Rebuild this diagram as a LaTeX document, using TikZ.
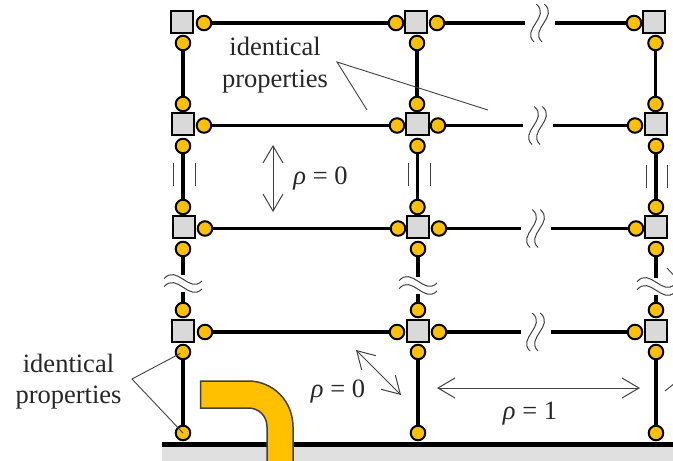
\documentclass[tikz,border=0pt]{standalone}
\usepackage{fontspec}
\setmainfont{Liberation Serif}
\usetikzlibrary{arrows.meta}
\definecolor{pipeorange}{HTML}{FFC000}
\definecolor{jointgray}{HTML}{D9D9D9}
\definecolor{groundgray}{HTML}{E0E0E0}
\definecolor{leadgray}{HTML}{404040}
\tikzset{
	joint/.style={draw, line width=2pt, fill=jointgray, minimum size=22.5pt, inner sep=0pt},
	hinge/.style={draw, circle, line width=2pt, fill=pipeorange, minimum size=14.5pt, inner sep=0pt},
	frame/.style={line width=3.4pt},
	lead/.style={draw=leadgray, line width=0.9pt},
	span/.style={draw=leadgray, line width=1pt, {Straight Barb[length=17pt,width=20pt]}-{Straight Barb[length=17pt,width=20pt]}},
	note/.style={align=center, text=black!85, font=\fontsize{26.5}{31.5}\selectfont, inner sep=0pt},
	pics/breakmark/.style={code={
		\fill[white] (-#1,-4) rectangle (#1,4);
		\foreach \o in {-4,4}
			\draw[draw=leadgray, line width=1pt, shift={(\o,0)}] (0.3,-19) .. controls (15,-6) and (-15,6) .. (-2,19);
	}}
}
\begin{document}
\begin{tikzpicture}[x=1pt, y=-1pt]
	\useasboundingbox (0,0) rectangle (673,461);
	% ground
	\fill[groundgray] (162,444) rectangle (673,461);
	\draw[line width=5pt] (162,444.5) -- (673,444.5);
	% joints
	\foreach \nm/\x/\y in {a1/182/22, a2/416/22, a3/654/22, b1/183/124, b2/417.5/124, b3/656/124, c1/184/227, c2/418/227, c3/656/227, d1/183/331, d2/418/331, d3/656/331}
		\node[joint] (\nm) at (\x,\y) {};
	% hinges
	\foreach \nm/\x/\y in {a1r/204/23, a2l/396/23, a2r/437/23, a3l/634/23,
		a1b/183/43, a2b/417/43, a3b/655.5/43,
		b1t/183/104, b2t/417/104, b3t/655.5/104,
		b1r/204/125.5, b2l/397/125.5, b2r/438/125.5, b3l/635/125.5,
		b1b/183/146, b2b/417.5/146, b3b/656/146,
		c1t/183/207, c2t/417.5/207, c3t/656/207,
		c1r/205/228.5, c2l/398/228.5, c2r/439/228.5, c3l/636/228.5,
		c1b/183/249, c2b/418/249, c3b/656/249,
		d1t/183/310, d2t/418/310, d3t/656/310,
		d1r/205/332, d2l/397/332, d2r/439/332, d3l/635/332,
		d1b/183/352, d2b/418/352, d3b/656/352,
		e1/183/433, e2/418/433, e3/656/433}
		\node[hinge] (\nm) at (\x,\y) {};
	% frame
	\foreach \p/\q in {a1r/a2l, a2r/a3l, b1r/b2l, b2r/b3l, c1r/c2l, c2r/c3l, d1r/d2l, d2r/d3l,
		a1b/b1t, a2b/b2t, a3b/b3t, b1b/c1t, b2b/c2t, b3b/c3t, c1b/d1t, c2b/d2t, c3b/d3t,
		d1b/e1, d2b/e2, d3b/e3}
		\draw[frame] (\p) -- (\q);
	% breaks
	\foreach \x/\y in {540/23, 538/125.5, 536/228.5, 536/332}
		\pic at (\x,\y) {breakmark=15};
	\foreach \x/\y in {183/283, 418/285, 656/286}
		\pic[rotate=90] at (\x,\y) {breakmark=8.5};
	\foreach \x/\y in {173/163, 195/163, 408/163, 430/163, 646/165, 667/165}
		\draw[lead] (\x,\y) -- (\x,\y+23);
	% pipe
	\draw[draw=leadgray, line width=1.5pt, fill=pipeorange] (200.5,381) -- (248,381)
		.. controls (273,381) and (293,401) .. (293,427) -- (293,465) -- (267,465) -- (267,427)
		.. controls (267,416) and (259,408) .. (248,408) -- (200.5,408) -- cycle;
	% leaders
	\node[note] (topnote) at (275,65) {identical\\properties};
	\node[note] (leftnote) at (68.5,381.5) {identical\\properties};
	\coordinate (topapex) at (337,62);
	\coordinate (topend1) at (367,110);
	\coordinate (topend2) at (488,110);
	\coordinate (leftapex) at (132,379);
	\draw[lead] (topend1) -- (topapex) -- (topend2);
	\draw[lead, shorten <=3pt] (d1b.center) -- (leftapex) -- (e1.center);
	% correlations
	\coordinate (vtop) at (273,145);
	\coordinate (vbot) at (273,212);
	\coordinate (dtop) at (356,350);
	\coordinate (dbot) at (401,395);
	\coordinate (hleft) at (437,388);
	\coordinate (hright) at (640,388);
	\draw[span] (vtop) -- (vbot);
	\draw[span] (dtop) -- (dbot);
	\draw[span] (hleft) -- (hright);
	\draw[lead] (667,268) -- (680,282);
	\draw[lead] (665,391) -- (680,379);
	\node[note] (rhov) at (320.5,179) {\textit{ρ} = 0};
	\node[note] (rhod) at (338,392) {\textit{ρ} = 0};
	\node[note] (rhoh) at (530,414) {\textit{ρ} = 1};
\end{tikzpicture}
\end{document}
